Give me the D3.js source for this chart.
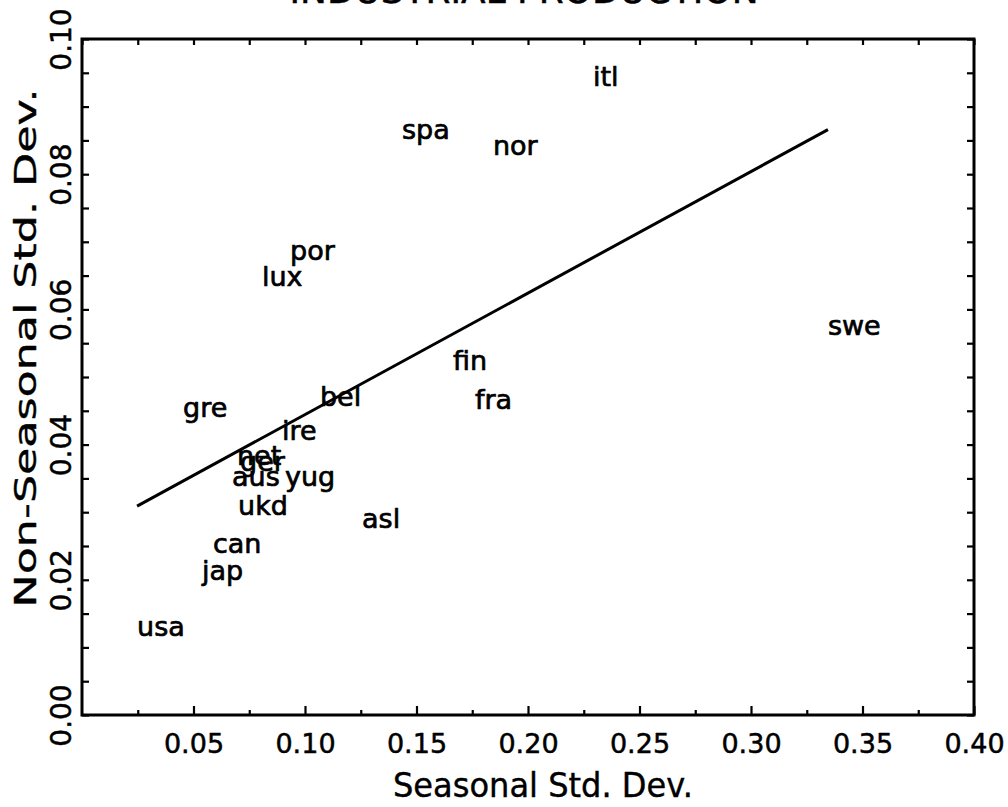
<!DOCTYPE html>
<html>
<head>
<meta charset="utf-8">
<script src="https://cdn.jsdelivr.net/npm/d3@7"></script>
<style>
  html, body { margin: 0; padding: 0; background: #fff; }
  svg { display: block; }
  text { font-family: "DejaVu Sans", sans-serif; fill: #000; }
</style>
</head>
<body>
<div id="chart"></div>
<script>
// ---- data ----
const countries = ["usa","jap","can","ukd","aus","yug","net","ger","ire","asl",
                   "bel","fra","fin","por","lux","itl","spa","nor","swe","gre"];
const seasonalSD = [0.0247,0.0538,0.0587,0.0700,0.0673,0.0910,0.0695,0.0709,0.0897,0.1256,
                    0.1067,0.1762,0.1664,0.0933,0.0807,0.2291,0.1435,0.1843,0.3345,0.0453];
const nonSeasonalSD = [0.0128,0.0211,0.0251,0.0306,0.0350,0.0350,0.0380,0.0372,0.0418,0.0287,
                       0.0468,0.0464,0.0521,0.0684,0.0646,0.0941,0.0863,0.0839,0.0573,0.0452];
const fitX = [0.0247, 0.3345];
const fitY = [0.0309, 0.0866];
const xTickLabels = [0.05,0.10,0.15,0.20,0.25,0.30,0.35,0.40];
const yTickLabels = [0.00,0.02,0.04,0.06,0.08,0.10];
const titleText = "INDUSTRIAL PRODUCTION";
const xTitle = "Seasonal Std. Dev.";
const yTitle = "Non-Seasonal Std. Dev.";

// ---- layout ----
const W = 1008, H = 807;
const L = 82, R = 974, T = 39, B = 715;

const svg = d3.select("#chart").append("svg").attr("width", W).attr("height", H);

const x = d3.scaleLinear().domain([0, 0.4]).range([L, R]);
const y = d3.scaleLinear().domain([0, 0.1]).range([B, T]);

const xMinor = d3.range(0, 0.4001, 0.025);
const yMinor = d3.range(0, 0.1001, 0.005);

function styleAxis(g) {
  g.select(".domain").remove();
  g.selectAll(".tick line").attr("stroke", "#000").attr("stroke-width", 2.2);
}
function heavy(sel, w) {
  sel.attr("stroke", "#000").attr("stroke-width", w).attr("stroke-linejoin", "round");
}

// bottom ticks (minor + major)
svg.append("g").attr("transform", `translate(0,${B})`)
  .call(d3.axisBottom(x).tickValues(xMinor.filter((d,i)=>i%2===1)).tickSize(-5).tickFormat(""))
  .call(styleAxis);
svg.append("g").attr("transform", `translate(0,${B})`)
  .call(d3.axisBottom(x).tickValues(xTickLabels).tickSize(-9).tickPadding(0)
        .tickFormat(d3.format(".2f")))
  .call(styleAxis)
  .call(g => g.selectAll(".tick text")
      .attr("y", 38).attr("dy", 0)
      .style("font-size", "27px").call(heavy, 0.5));
// top ticks
svg.append("g").attr("transform", `translate(0,${T})`)
  .call(d3.axisTop(x).tickValues(xMinor).tickSize(-6).tickFormat(""))
  .call(styleAxis);
// left ticks
svg.append("g").attr("transform", `translate(${L},0)`)
  .call(d3.axisLeft(y).tickValues(yMinor).tickSize(-7).tickFormat(""))
  .call(styleAxis);
svg.append("g").attr("transform", `translate(${L},0)`)
  .call(d3.axisLeft(y).tickValues(yTickLabels).tickSize(0).tickFormat(d3.format(".2f")))
  .call(styleAxis)
  .call(g => g.selectAll(".tick text")
      .attr("x", null).attr("dy", null)
      .attr("text-anchor", "middle")
      .attr("transform", "translate(-11,0) rotate(-90)")
      .style("font-size", "28px").call(heavy, 0.5));
// right ticks
svg.append("g").attr("transform", `translate(${R},0)`)
  .call(d3.axisRight(y).tickValues(yMinor).tickSize(-7).tickFormat(""))
  .call(styleAxis);

// frame
svg.append("rect").attr("x", L).attr("y", T).attr("width", R - L).attr("height", B - T)
  .attr("fill", "none").attr("stroke", "#000").attr("stroke-width", 3);

// fit line
svg.append("path")
  .datum(fitX.map((d, i) => [d, fitY[i]]))
  .attr("fill", "none").attr("stroke", "#000").attr("stroke-width", 3)
  .attr("d", d3.line().x(d => x(d[0])).y(d => y(d[1])));

// labels
svg.append("g").selectAll("text")
  .data(countries.map((c, i) => ({c, sx: seasonalSD[i], ny: nonSeasonalSD[i]})))
  .join("text")
  .attr("x", d => x(d.sx))
  .attr("y", d => y(d.ny))
  .attr("dy", "0.27em")
  .style("font-size", "27px")
  .call(heavy, 0.7)
  .text(d => d.c);

// titles
svg.append("text").attr("x", 524).attr("y", 3).attr("text-anchor", "middle")
  .attr("textLength", 469).attr("lengthAdjust", "spacingAndGlyphs")
  .style("font-size", "36px").call(heavy, 0.5).text(titleText);
svg.append("text").attr("x", 543).attr("y", 797).attr("text-anchor", "middle")
  .attr("textLength", 300).attr("lengthAdjust", "spacingAndGlyphs")
  .style("font-size", "33px").call(heavy, 0.4).text(xTitle);
svg.append("text").attr("transform", "translate(36,348) rotate(-90)").attr("text-anchor", "middle")
  .attr("textLength", 519).attr("lengthAdjust", "spacingAndGlyphs")
  .style("font-size", "31px").call(heavy, 0.4).text(yTitle);
</script>
</body>
</html>
